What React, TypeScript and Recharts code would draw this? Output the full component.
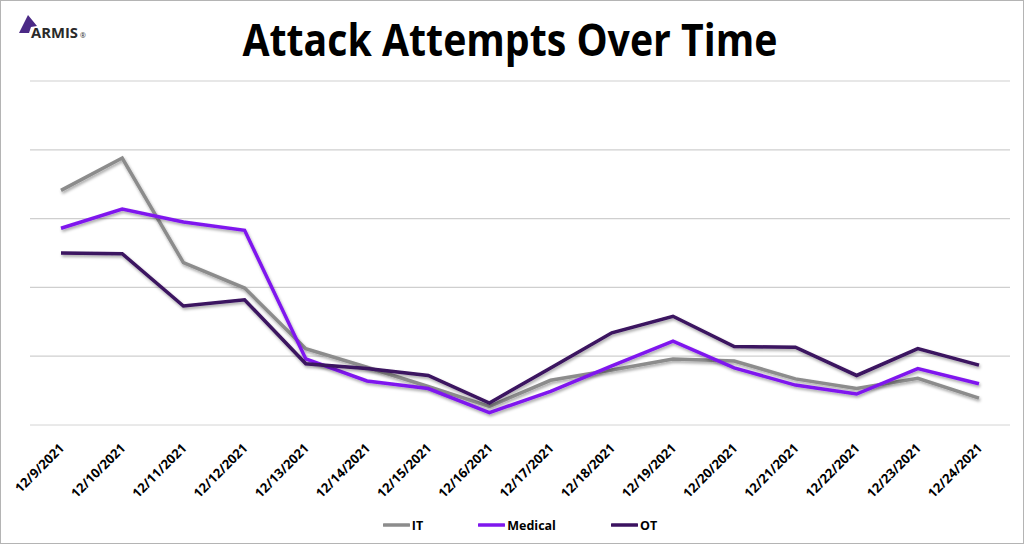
import React from "react";
import { LineChart, Line, XAxis, YAxis, CartesianGrid, Legend } from "recharts";

const dates = [
  "12/9/2021", "12/10/2021", "12/11/2021", "12/12/2021", "12/13/2021", "12/14/2021",
  "12/15/2021", "12/16/2021", "12/17/2021", "12/18/2021", "12/19/2021", "12/20/2021",
  "12/21/2021", "12/22/2021", "12/23/2021", "12/24/2021",
];
const itValues = [341, 388, 236, 199, 111, 84, 56, 27, 65, 80, 96, 93, 67, 53, 68, 39];
const medicalValues = [286, 314, 295, 283, 96, 64, 53, 18, 49, 86, 122, 83, 58, 45, 82, 60];
const otValues = [250, 249, 173, 182, 89, 82, 72, 32, 83, 134, 158, 114, 113, 72, 111, 87];
const yTicks = [100, 200, 300, 400, 500];

const series = [
  { key: "IT", values: itValues, color: "#8c8c8c" },
  { key: "Medical", values: medicalValues, color: "#7f17ee" },
  { key: "OT", values: otValues, color: "#3b1260" },
];

const data = dates.map((d, i) => ({
  date: d,
  IT: itValues[i],
  Medical: medicalValues[i],
  OT: otValues[i],
}));

const FONT = "'Open Sans', 'DejaVu Sans', sans-serif";

function DateTick(props: any) {
  const { x, y, payload } = props;
  return (
    <g transform={`translate(${x + 4},${y + 16})`}>
      <text
        transform="rotate(-45)"
        textAnchor="end"
        fontFamily={FONT}
        fontWeight={700}
        fontSize={13}
        fill="#000"
      >
        {payload.value}
      </text>
    </g>
  );
}

function LegendContent() {
  return (
    <div
      style={{
        display: "flex",
        justifyContent: "center",
        alignItems: "center",
        height: 30,
        fontFamily: FONT,
        fontWeight: 700,
        fontSize: 12.5,
        color: "#000",
      }}
    >
      {series.map((s, i) => (
        <div
          key={s.key}
          style={{ display: "flex", alignItems: "center", marginRight: i < series.length - 1 ? 55 : 0 }}
        >
          <svg width={27} height={6} style={{ marginRight: 2 }}>
            <line x1={1} y1={3} x2={26} y2={3} stroke={s.color} strokeWidth={3.5} strokeLinecap="round" />
          </svg>
          <span>{s.key}</span>
        </div>
      ))}
    </div>
  );
}

export default function App() {
  return (
    <div
      style={{
        position: "fixed",
        left: 0,
        top: 0,
        width: 1024,
        height: 544,
        background: "#fff",
        border: "1px solid #b4b4b4",
        boxSizing: "border-box",
        overflow: "hidden",
      }}
    >
      <div style={{ position: "absolute", left: -1, top: -1 }}>
        <LineChart
          width={1024}
          height={544}
          data={data}
          margin={{ top: 81, right: 14, left: 30, bottom: 4 }}
        >
          <defs>
            <filter id="lineShadow" x="-5%" y="-20%" width="110%" height="140%">
              <feDropShadow dx="1" dy="2" stdDeviation="1.4" floodColor="#000" floodOpacity="0.35" />
            </filter>
          </defs>
          <CartesianGrid vertical={false} stroke="#cfcfcf" strokeWidth={1.2} />
          <XAxis
            dataKey="date"
            interval={0}
            tickLine={false}
            axisLine={{ stroke: "#ececec" }}
            tick={<DateTick />}
            padding={{ left: 31, right: 31 }}
            height={85}
          />
          <YAxis hide domain={[0, 500]} ticks={yTicks} />
          {series.map((s) => (
            <Line
              key={s.key}
              type="linear"
              dataKey={s.key}
              stroke={s.color}
              strokeWidth={3.5}
              dot={false}
              activeDot={false}
              filter="url(#lineShadow)"
              isAnimationActive={false}
            />
          ))}
          <Legend verticalAlign="bottom" height={30} content={<LegendContent />} />
        </LineChart>
      </div>
      <svg
        width={1024}
        height={80}
        style={{ position: "absolute", left: -1, top: -1, pointerEvents: "none" }}
      >
        <polygon points="19,33 28,15 37,26 31,27 29,33" fill="#4b2a86" />
        <text
          x={31}
          y={38}
          fontFamily={FONT}
          fontWeight={700}
          fontSize={14}
          textLength={47}
          lengthAdjust="spacingAndGlyphs"
          fill="#2a2a2a"
        >
          ARMIS
        </text>
        <text x={80} y={38} fontFamily={FONT} fontSize={7} fill="#2a2a2a">
          ®
        </text>
        <text
          x={510}
          y={56}
          textAnchor="middle"
          fontFamily={FONT}
          fontWeight={700}
          fontSize={44}
          textLength={535}
          lengthAdjust="spacingAndGlyphs"
          fill="#000"
        >
          Attack Attempts Over Time
        </text>
      </svg>
    </div>
  );
}
